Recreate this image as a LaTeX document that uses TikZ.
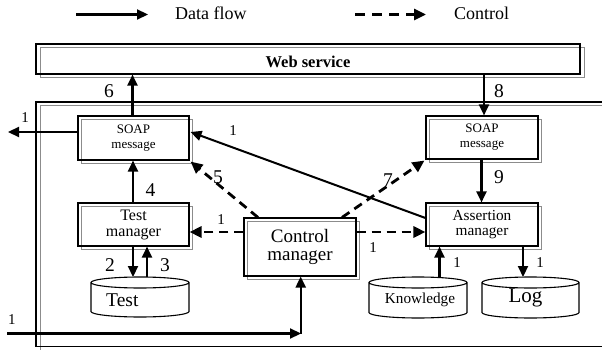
\documentclass[tikz,border=0pt]{standalone}
\usepackage{fontspec}
\setmainfont{Liberation Serif}
\usetikzlibrary{arrows.meta,calc}
\newcommand\fs[1]{\fontsize{#1}{#1}\selectfont}
\begin{document}
\begin{tikzpicture}[x=1pt,y=-1pt,
  boxline/.style={draw=black,line width=1.1pt},
  shadowline/.style={draw=black!45,line width=0.9pt},
  sbox/.style={boxline,rectangle,inner sep=0pt,align=center},
  flow/.style={line width=2.2pt,-{Triangle[length=11pt,width=10pt]}},
  ctl/.style={line width=2.8pt,dash pattern=on 9pt off 6pt,-{Triangle[length=12pt,width=11pt]}},
  num/.style={font=\fs{19.5},inner sep=0pt},
  one/.style={font=\fs{15},inner sep=0pt}]
\useasboundingbox (0,0) rectangle (602,350);
\clip (0,0) rectangle (602,350);
% legend
\coordinate (la) at (76,14.5);
\coordinate (lb) at (148,14.5);
\coordinate (lc) at (355,14.5);
\coordinate (ld) at (426,14.5);
\draw[flow] (la) -- (lb);
\draw[ctl,dash pattern=on 10pt off 7pt] (lc) -- (ld);
\node[anchor=base west,inner sep=0pt,font=\fs{18}] (ldata) at (175,20) {Data flow};
\node[anchor=base west,inner sep=0pt,font=\fs{18}] (lctl) at (454,20) {Control};
% outer frame
\draw[shadowline] (40,105.5) rectangle (640,350);
\draw[boxline] (36,102) rectangle (636,346.5);
% web service
\draw[shadowline] (40,47.5) rectangle (584,77.5);
\node[sbox,minimum width=544pt,minimum height=30pt,text height=18pt,text depth=0pt,font=\bfseries\fs{16.5}] (web) at (308,59) {Web service};
% boxes shadows
\draw[shadowline] (81.5,119.5) rectangle (192.5,163.5);
\draw[shadowline] (81.5,206.5) rectangle (192.5,249.5);
\draw[shadowline] (247.5,221.5) rectangle (359.5,279.5);
\draw[shadowline] (429.5,119.5) rectangle (541.5,162.5);
\draw[shadowline] (429.5,206.5) rectangle (541.5,249.5);
% boxes
\node[sbox,minimum width=111pt,minimum height=44pt,font={\fontsize{13}{15}\selectfont}] (soapL) at (133.5,138) {SOAP\\message};
\node[sbox,minimum width=111pt,minimum height=43pt,font={\fontsize{16}{16}\selectfont}] (testM) at (133.5,224.5) {Test\\manager};
\node[sbox,minimum width=112pt,minimum height=58pt,font={\fontsize{19}{18.5}\selectfont}] (ctrl) at (300,247) {Control\\manager};
\node[sbox,minimum width=112pt,minimum height=43pt,font={\fontsize{13}{15}\selectfont}] (soapR) at (482,137.5) {SOAP\\message};
\node[sbox,minimum width=112pt,minimum height=43pt,font={\fontsize{15.3}{15.5}\selectfont}] (assert) at (482,224.5) {Assertion\\manager};
% cylinders
\draw[boxline] (91,282.5) -- (91,311.5) arc[start angle=180,end angle=360,x radius=49pt,y radius=5.5pt] -- (189,282.5) arc[start angle=0,end angle=360,x radius=49pt,y radius=5.5pt];
\draw[boxline] (369,282.5) -- (369,312.5) arc[start angle=180,end angle=360,x radius=49pt,y radius=5.5pt] -- (467,282.5) arc[start angle=0,end angle=360,x radius=49pt,y radius=5.5pt];
\draw[boxline] (482,282.5) -- (482,312.5) arc[start angle=180,end angle=360,x radius=48.5pt,y radius=5.5pt] -- (579,282.5) arc[start angle=0,end angle=360,x radius=48.5pt,y radius=5.5pt];
\node[anchor=base west,inner sep=0pt,font=\fs{19.5}] (testdb) at (106,306.5) {Test};
\node[anchor=base,inner sep=0pt,font=\fs{15.2}] (know) at (420,303.5) {Knowledge};
\node[anchor=base,inner sep=0pt,font=\fs{21}] (logdb) at (525.5,302) {Log};
\coordinate (testtop) at (140,277);
\coordinate (knowtop) at (418,277);
\coordinate (logtop) at (530.5,277);
% external points
\coordinate (outL) at (8,132);
\coordinate (inL) at (7,333.5);
\coordinate (corner) at (300,333.5);
% data flow arrows
\draw[flow] ([xshift=-1pt]soapL.north) -- ([xshift=-1pt]soapL.north |- web.south);
\draw[flow] ([xshift=2pt]soapR.north |- web.south) -- ([xshift=2pt]soapR.north);
\draw[flow] ([yshift=6pt]soapL.west) -- (outL);
\draw[line width=2pt,-{Triangle[length=11pt,width=10pt]}] ([yshift=6.5pt]assert.west) -- ([xshift=1pt,yshift=6pt]soapL.east);
\draw[flow] ([xshift=-0.5pt]testM.north) -- ([xshift=-0.5pt]soapL.south);
\draw[flow] ([xshift=-0.5pt]soapR.south) -- ([xshift=-0.5pt]assert.north);
\draw[flow] ([xshift=-0.5pt]testM.south) -- ([xshift=-0.5pt]testM.south |- testtop);
\draw[flow] ([xshift=13.5pt]testM.south |- testtop) -- ([xshift=13.5pt]testM.south);
\draw[flow] ([xshift=21.5pt]knowtop) -- ([xshift=-42.5pt]assert.south);
\draw[flow] ([xshift=41pt]assert.south) -- ([xshift=41pt]assert.south |- logtop);
\draw[flow,shorten >=-1pt] (inL) -- (corner);
\draw[flow] ([xshift=0.7pt]corner) -- ([xshift=0.7pt]ctrl.south);
% control arrows
\draw[ctl] ([xshift=-42pt]ctrl.north) -- ([xshift=1pt,yshift=-1pt]soapL.south east);
\draw[ctl] ([xshift=42pt]ctrl.north) -- ([xshift=-1pt,yshift=-1pt]soapR.south west);
\draw[ctl] ([yshift=15pt]ctrl.west) -- ([yshift=-7.5pt]testM.east);
\draw[ctl] ([yshift=15pt]ctrl.east) -- ([yshift=-7.5pt]assert.west);
% labels
\node[num] (n6) at (109,91) {6};
\node[num] (n8) at (499,91) {8};
\node[num] (n4) at (150.5,190) {4};
\node[num] (n5) at (218,177) {5};
\node[num] (n7) at (388,180) {7};
\node[num] (n9) at (499,177) {9};
\node[num] (n2) at (110,265) {2};
\node[num] (n3) at (165,265) {3};
\node[one] (o1) at (25,118) {1};
\node[one] (o2) at (233,131) {1};
\node[one] (o3) at (221,220) {1};
\node[one] (o4) at (373,248) {1};
\node[one] (o5) at (457,263) {1};
\node[one] (o6) at (540,263) {1};
\node[one] (o7) at (12,320) {1};
\end{tikzpicture}
\end{document}
